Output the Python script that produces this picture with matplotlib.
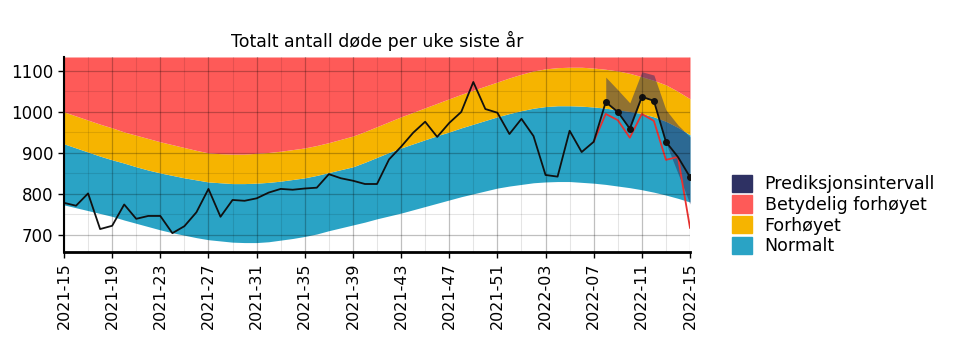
import matplotlib
matplotlib.use("Agg")
from matplotlib import pyplot as plt
from matplotlib.patches import Patch
import numpy as np

# week labels, 2021-15 .. 2022-15
weeks = ['2021-%02d' % w for w in range(15, 53)] + ['2022-%02d' % w for w in range(1, 16)]
tick_labels = ['2021-15', '2021-19', '2021-23', '2021-27', '2021-31', '2021-35', '2021-39',
               '2021-43', '2021-47', '2021-51', '2022-03', '2022-07', '2022-11', '2022-15']

# observed deaths per week
deaths = [778, 771, 801, 714, 722, 774, 739, 746, 746, 704, 721, 755, 812, 744, 785, 783,
          789, 803, 812, 810, 813, 815, 848, 838, 832, 824, 824, 884, 915, 949, 976, 939,
          973, 1000, 1073, 1007, 998, 946, 983, 941, 846, 842, 954, 902, 927, 1024, 1000,
          959, 1037, 1027, 927, 890, 841]

# reported so far (red line), last weeks only
reported_weeks = weeks[44:]
reported = [927, 995, 980, 937, 995, 978, 883, 890, 717]

# prediction interval for the last weeks
pred_weeks = weeks[45:]
pred_low = [1022, 998, 956, 1035, 1027, 924, 850, 775]
pred_high = [1085, 1054, 1022, 1098, 1090, 1005, 968, 939]

# band limits
normal_low = [773, 766, 759, 752, 745, 736, 728, 720, 712, 705, 699, 693, 688, 685, 682, 681,
              681, 683, 687, 691, 696, 702, 710, 717, 724, 731, 739, 746, 753, 761, 769, 777,
              785, 793, 800, 807, 814, 819, 823, 827, 829, 830, 830, 828, 826, 823, 819, 815,
              810, 804, 797, 789, 780]
normal_high = [922, 912, 902, 892, 883, 875, 866, 858, 851, 845, 839, 834, 829, 827, 825, 825,
               826, 828, 831, 835, 839, 845, 852, 859, 866, 877, 889, 901, 912, 922, 932, 942,
               951, 961, 970, 979, 988, 996, 1003, 1009, 1013, 1015, 1015, 1014, 1012, 1009,
               1005, 1001, 996, 988, 977, 962, 944]
elevated_high = [1000, 990, 980, 970, 961, 951, 943, 935, 927, 920, 913, 906, 900, 898, 897,
                 897, 899, 901, 904, 908, 912, 918, 925, 933, 941, 952, 964, 976, 988, 999,
                 1010, 1021, 1032, 1043, 1053, 1063, 1073, 1083, 1092, 1100, 1105, 1108, 1109,
                 1109, 1107, 1104, 1100, 1094, 1086, 1077, 1066, 1050, 1032]

y_min, y_max = 658, 1134

c_normal = '#2aa3c5'
c_elev = '#f6b400'
c_sig = '#fe5a58'
c_pred = '#2e3163'

x = np.arange(len(weeks))
x_rep = np.arange(44, 53)
x_pred = np.arange(45, 53)

fig = plt.figure(figsize=(9.6, 3.46), dpi=100)
ax = fig.add_axes([64/960, 1 - 252/346, 626/960, 195/346])

ax.fill_between(x, normal_low, normal_high, color=c_normal, lw=0)
ax.fill_between(x, normal_high, elevated_high, color=c_elev, lw=0)
ax.fill_between(x, elevated_high, y_max, color=c_sig, lw=0)
ax.fill_between(x_pred, pred_low, pred_high, color=c_pred, alpha=0.5, lw=0)

ax.plot(x_rep, reported, color='#e8312f', lw=1.3)
ax.plot(x, deaths, color='#111111', lw=1.3)
dot_idx = [45, 46, 47, 48, 49, 50, 52]
ax.plot(dot_idx, [deaths[i] for i in dot_idx], 'o', color='#111111', ms=4)

ax.set_xlim(0, 52)
ax.set_ylim(y_min, y_max)
ax.set_xticks([weeks.index(t) for t in tick_labels])
ax.set_xticklabels(tick_labels, rotation=90, fontsize=11.5)
ax.set_xticks(np.arange(0, 53, 2), minor=True)
ax.set_yticks([700, 800, 900, 1000, 1100])
ax.set_yticks([750, 850, 950, 1050], minor=True)
ax.tick_params(axis='y', labelsize=12)
ax.tick_params(which='minor', length=0)
ax.tick_params(which='major', length=4, width=1)

ax.grid(which='major', color='black', alpha=0.25, lw=0.9)
ax.grid(which='minor', color='black', alpha=0.1, lw=0.8)
ax.set_axisbelow(False)

for side in ['top', 'right']:
    ax.spines[side].set_visible(False)
ax.spines['bottom'].set_linewidth(2)
ax.spines['left'].set_linewidth(1.5)

ax.set_title('Totalt antall døde per uke siste år', fontsize=12.5, pad=7)

handles = [Patch(color=c_pred, label='Prediksjonsintervall'),
           Patch(color=c_sig, label='Betydelig forhøyet'),
           Patch(color=c_elev, label='Forhøyet'),
           Patch(color=c_normal, label='Normalt')]
fig.legend(handles=handles, loc='center left', bbox_to_anchor=(716/960, 1 - 215/346),
           frameon=False, fontsize=12.5, handlelength=1.15, handleheight=1.15,
           handletextpad=0.75, labelspacing=0.12)

fig.savefig('out.png', dpi=100)
